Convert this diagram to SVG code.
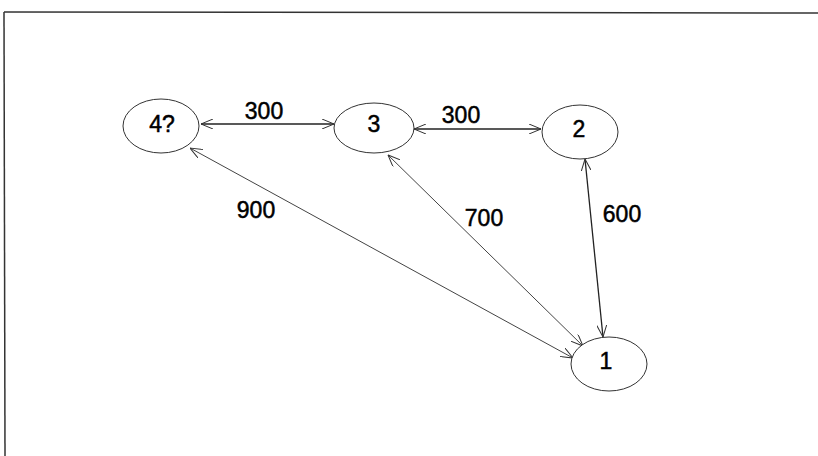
<svg xmlns="http://www.w3.org/2000/svg" width="818" height="456" viewBox="0 0 818 456">
<style>
.node{fill:#fff;stroke:#333;stroke-width:1}
.lbl{font-family:"Liberation Sans",Arial,sans-serif;font-size:23px;fill:#000;stroke:#000;stroke-width:0.5;text-anchor:middle}
.edge{stroke:#444;stroke-width:1;fill:none;marker-start:url(#ah);marker-end:url(#ah)}
.dark{stroke:#222;stroke-width:1.3}
</style>
<defs>
<marker id="ah" viewBox="0 0 12 10" refX="12" refY="5" markerWidth="12" markerHeight="10" markerUnits="userSpaceOnUse" orient="auto-start-reverse">
<path d="M0,0 L12,5 L0,10" fill="none" stroke="#333" stroke-width="1"/>
</marker>
</defs>
<rect width="818" height="456" fill="#fff"/>
<g id="frame" stroke="#333" stroke-width="1.5" fill="none">
<path d="M4,12 L818,13"/>
<path d="M4,12 L5,456"/>
</g>
<g id="connectors">
<line class="edge dark" x1="201" y1="124" x2="334" y2="124"/>
<line class="edge dark" x1="414" y1="129" x2="541" y2="129"/>
<line class="edge dark" x1="585" y1="159" x2="603" y2="337"/>
<line class="edge" x1="388" y1="155" x2="583" y2="346"/>
<line class="edge" x1="190" y1="148" x2="573" y2="358"/>
<text class="lbl" x="264" y="119">300</text>
<text class="lbl" x="461" y="123">300</text>
<text class="lbl" x="622" y="222">600</text>
<text class="lbl" x="484" y="226">700</text>
<text class="lbl" x="256" y="218">900</text>
</g>
<g id="n4"><ellipse class="node" cx="161" cy="126" rx="38" ry="27"/><text class="lbl" x="162" y="132">4?</text></g>
<g id="n3"><ellipse class="node" cx="374" cy="128" rx="40" ry="25"/><text class="lbl" x="374" y="132">3</text></g>
<g id="n2"><ellipse class="node" cx="580" cy="132" rx="38" ry="27"/><text class="lbl" x="579" y="137">2</text></g>
<g id="n1"><ellipse class="node" cx="609" cy="364" rx="38" ry="27"/><text class="lbl" x="606" y="369">1</text></g>
</svg>
